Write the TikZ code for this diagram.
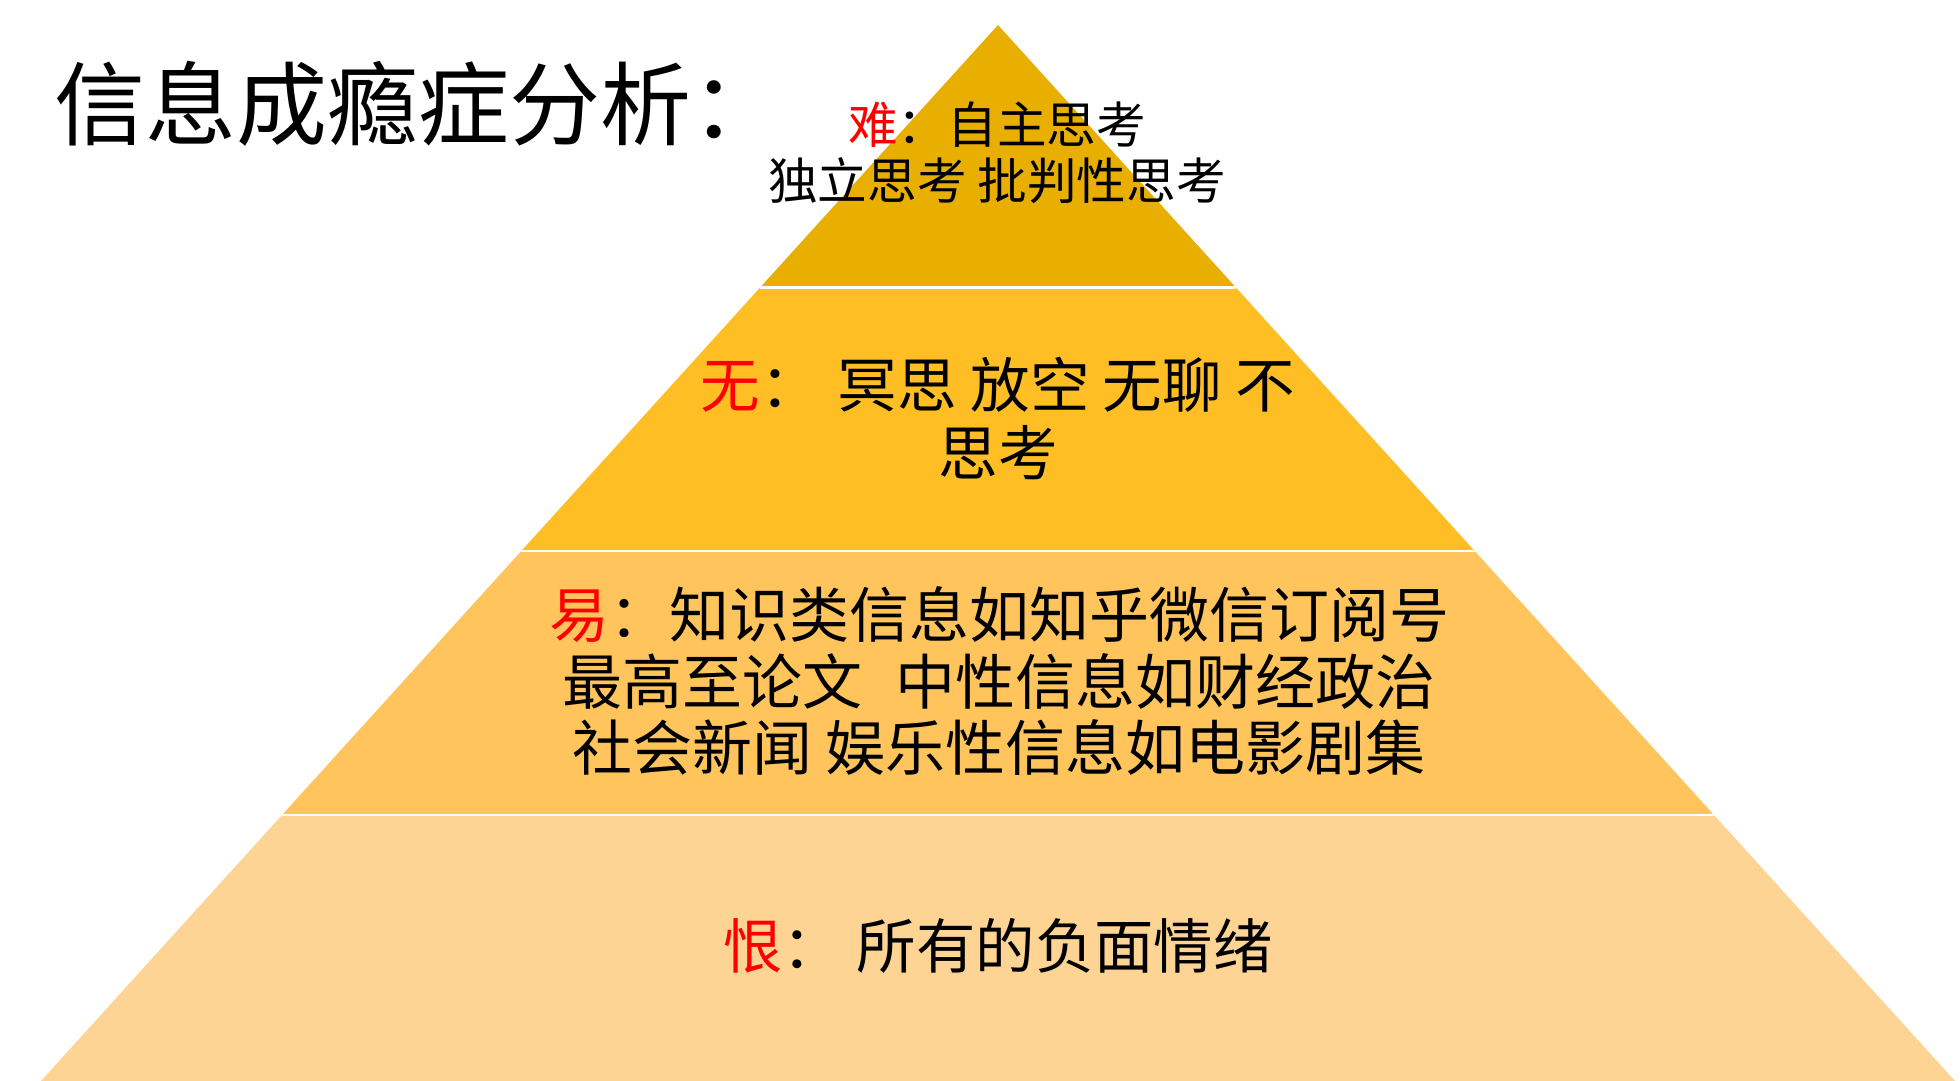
\documentclass[tikz,border=0pt]{standalone}
\usepackage{fontspec}
\newfontfamily\song{Noto Sans CJK SC}
\definecolor{tierA}{RGB}{232,175,0}
\definecolor{tierB}{RGB}{255,191,36}
\definecolor{tierC}{RGB}{255,197,92}
\definecolor{tierD}{RGB}{254,212,149}
\definecolor{keyred}{RGB}{255,0,0}
\begin{document}
\begin{tikzpicture}[x=0.5pt,y=-0.5pt,
  lbl/.style={inner sep=0pt, align=center},
  gap/.style={draw=white, line width=1.4pt}]
\useasboundingbox (0,0) rectangle (1960,1081);

% pyramid tiers, apex to base
\coordinate (apex) at (998,25);
\coordinate (l1) at (760.1,287.5);  \coordinate (r1) at (1235.9,287.5);
\coordinate (l2) at (521.3,551);    \coordinate (r2) at (1474.7,551);
\coordinate (l3) at (282,815);      \coordinate (r3) at (1714,815);
\coordinate (l4) at (41,1081);      \coordinate (r4) at (1955,1081);

\fill[tierA] (apex) -- (r1) -- (l1) -- cycle;
\fill[tierB] (l1) -- (r1) -- (r2) -- (l2) -- cycle;
\fill[tierC] (l2) -- (r2) -- (r3) -- (l3) -- cycle;
\fill[tierD] (l3) -- (r3) -- (r4) -- (l4) -- cycle;

% thin white seams between tiers
\draw[gap] (l1) -- (r1);
\draw[gap] (l2) -- (r2);
\draw[gap] (l3) -- (r3);

% title
\node[lbl, anchor=west, font=\song\fontsize{45.5}{52}\selectfont] (title) at (54,104)
  {信息成瘾症分析：};

% tier labels
\node[lbl, font=\song\fontsize{24.8}{28}\selectfont] (top) at (997,153)
  {\textcolor{keyred}{难}：自主思考\\独立思考 批判性思考};
\node[lbl, font=\song\fontsize{29.8}{34}\selectfont] (second) at (998,418)
  {\textcolor{keyred}{无}：\hspace{0.3em}冥思 放空 无聊 不\\思考};
\node[lbl, font=\song\fontsize{30}{33.25}\selectfont] (third) at (999,681)
  {\textcolor{keyred}{易}：知识类信息如知乎微信订阅号\\
   最高至论文\hspace{0.55em}中性信息如财经政治\\
   社会新闻 娱乐性信息如电影剧集};
\node[lbl, font=\song\fontsize{29.7}{34}\selectfont] (base) at (998,946)
  {\textcolor{keyred}{恨}：\hspace{0.25em}所有的负面情绪};
\end{tikzpicture}
\end{document}
